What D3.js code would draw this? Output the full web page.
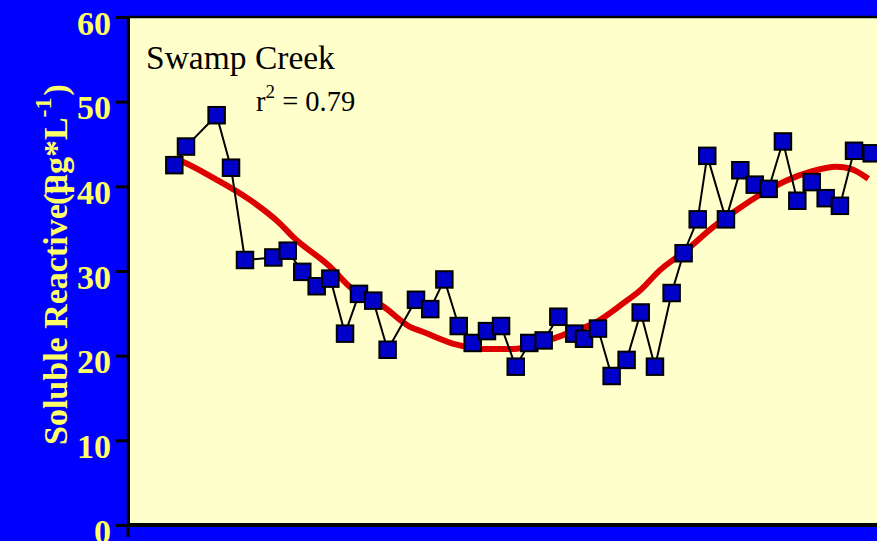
<!DOCTYPE html>
<html>
<head>
<meta charset="utf-8">
<script src="https://cdn.jsdelivr.net/npm/d3@7"></script>
<style>
  html, body { margin: 0; padding: 0; background: #0000ff; overflow: hidden; }
  svg { display: block; }
</style>
</head>
<body>
<script>
const WIDTH = 877;
const HEIGHT = 541;
const MARGIN = { left: 128, top: 17, bottom: 16 };

// sampling time, in months from the start of the axis
const months = [3.25, 4.07, 6.22, 7.23, 8.21, 10.2, 11.21, 12.23, 13.24, 14.2,
  15.23, 16.21, 17.21, 18.22, 20.21, 21.21, 22.2, 23.21, 24.19, 25.19,
  26.18, 27.21, 28.16, 29.17, 30.2, 31.32, 32.0, 32.98, 33.94, 34.99,
  35.98, 36.98, 38.15, 38.99, 39.98, 40.65, 41.96, 42.97, 43.98, 44.96,
  45.96, 46.97, 47.98, 48.96, 49.96, 50.95, 52.19];
// soluble reactive P, ug/L
const srp = [42.5, 44.7, 48.4, 42.2, 31.3, 31.6, 32.4, 29.9, 28.2, 29.1,
  22.6, 27.3, 26.5, 20.7, 26.6, 25.5, 29.0, 23.5, 21.5, 22.9,
  23.5, 18.7, 21.5, 21.8, 24.6, 22.6, 22.0, 23.2, 17.6, 19.5,
  25.1, 18.7, 27.4, 32.1, 36.1, 43.6, 36.1, 41.9, 40.2, 39.7,
  45.3, 38.3, 40.5, 38.6, 37.7, 44.2, 43.9];

// smoothed trend (red line)
const trendMonths = [3.25, 3.84, 5.99, 8.56, 10.67, 11.6, 14.18, 15.58, 17.92, 19.79,
  20.72, 23.07, 24.93, 27.04, 28.91, 30.79, 32.89, 34.76, 35.93, 37.33,
  39.21, 41.08, 42.72, 44.35, 46.22, 47.86, 49.73, 50.67, 51.95];
const trendValues = [43.3, 42.9, 41.0, 38.4, 35.6, 34.0, 30.5, 28.1, 25.8, 23.4,
  22.8, 21.3, 20.8, 20.8, 21.5, 22.6, 24.0, 26.2, 27.7, 30.1,
  32.5, 35.2, 37.2, 39.0, 40.7, 41.7, 42.3, 42.1, 40.9];

const yTicks = [0, 10, 20, 30, 40, 50, 60];

const x = d3.scaleLinear([0, 60], [MARGIN.left, MARGIN.left + 60 * 14.25]);
const y = d3.scaleLinear([0, 60], [HEIGHT - MARGIN.bottom, MARGIN.top]);

const svg = d3.select('body').append('svg')
  .attr('width', WIDTH)
  .attr('height', HEIGHT)
  .attr('viewBox', [0, 0, WIDTH, HEIGHT]);

svg.append('rect')
  .attr('width', WIDTH).attr('height', HEIGHT)
  .attr('fill', '#0000ff');

// plot area
svg.append('rect')
  .attr('x', x(0))
  .attr('y', y(60))
  .attr('width', WIDTH - x(0) + 10)
  .attr('height', y(0) - y(60))
  .attr('fill', '#ffffcc')
  .attr('stroke', '#000')
  .attr('stroke-width', 2.5);

// y axis
const yAxis = d3.axisLeft(y)
  .tickValues(yTicks)
  .tickSize(12)
  .tickPadding(5)
  .tickFormat(d3.format('d'));

const gy = svg.append('g')
  .attr('transform', `translate(${x(0)},0)`)
  .call(yAxis);
gy.select('.domain').attr('stroke', '#000').attr('stroke-width', 3);
gy.selectAll('.tick line').attr('stroke', '#000').attr('stroke-width', 3);
gy.selectAll('.tick text')
  .attr('fill', '#ffff66')
  .attr('dy', '0.5em')
  .style('font', 'bold 34px "Liberation Serif", "Times New Roman", serif');

// bottom axis
svg.append('line')
  .attr('x1', x(0)).attr('x2', WIDTH + 5)
  .attr('y1', y(0)).attr('y2', y(0))
  .attr('stroke', '#000').attr('stroke-width', 4);
svg.append('line')
  .attr('x1', x(0)).attr('x2', x(0))
  .attr('y1', y(0)).attr('y2', y(0) + 12)
  .attr('stroke', '#000').attr('stroke-width', 3);

// trend
const trend = trendMonths.map((m, i) => [m, trendValues[i]]);
svg.append('path')
  .datum(trend)
  .attr('fill', 'none')
  .attr('stroke', '#dd0000')
  .attr('stroke-width', 6)
  .attr('stroke-linejoin', 'round')
  .attr('d', d3.line()
    .x(d => x(d[0]))
    .y(d => y(d[1]))
    .curve(d3.curveMonotoneX));

// observations
const obs = months.map((m, i) => [m, srp[i]]);
svg.append('path')
  .datum(obs)
  .attr('fill', 'none')
  .attr('stroke', '#000')
  .attr('stroke-width', 2)
  .attr('d', d3.line().x(d => x(d[0])).y(d => y(d[1])));

const SQ = 16.5;
svg.append('g')
  .selectAll('rect')
  .data(obs)
  .join('rect')
    .attr('x', d => x(d[0]) - SQ / 2)
    .attr('y', d => y(d[1]) - SQ / 2)
    .attr('width', SQ)
    .attr('height', SQ)
    .attr('fill', '#0000c8')
    .attr('stroke', '#000')
    .attr('stroke-width', 2);

// titles
svg.append('text')
  .attr('x', 146).attr('y', 69)
  .attr('fill', '#000')
  .style('font', '33.5px "Liberation Serif", "Times New Roman", serif')
  .text('Swamp Creek');

const r2 = svg.append('text')
  .attr('x', 256).attr('y', 111)
  .attr('fill', '#000')
  .style('font', '28.5px "Liberation Serif", "Times New Roman", serif');
r2.append('tspan').text('r');
r2.append('tspan').attr('dy', -13).style('font-size', '19px').text('2');
r2.append('tspan').attr('dy', 13).text(' = 0.79');

// y label: the two parts overlap as in the original
const labelFont = 'bold 34px "Liberation Serif", "Times New Roman", serif';
svg.append('text')
  .attr('transform', 'translate(67,445) rotate(-90)')
  .attr('fill', '#ffff66')
  .style('font', labelFont)
  .text('Soluble Reactive P');

const unit = svg.append('text')
  .attr('transform', 'translate(67,205) rotate(-90)')
  .attr('fill', '#ffff66')
  .style('font', labelFont);
unit.append('tspan').text('(µg*L');
unit.append('tspan').attr('dy', -16).style('font-size', '24px').text('-1');
unit.append('tspan').attr('dy', 16).attr('dx', 2).text(')');
</script>
</body>
</html>
